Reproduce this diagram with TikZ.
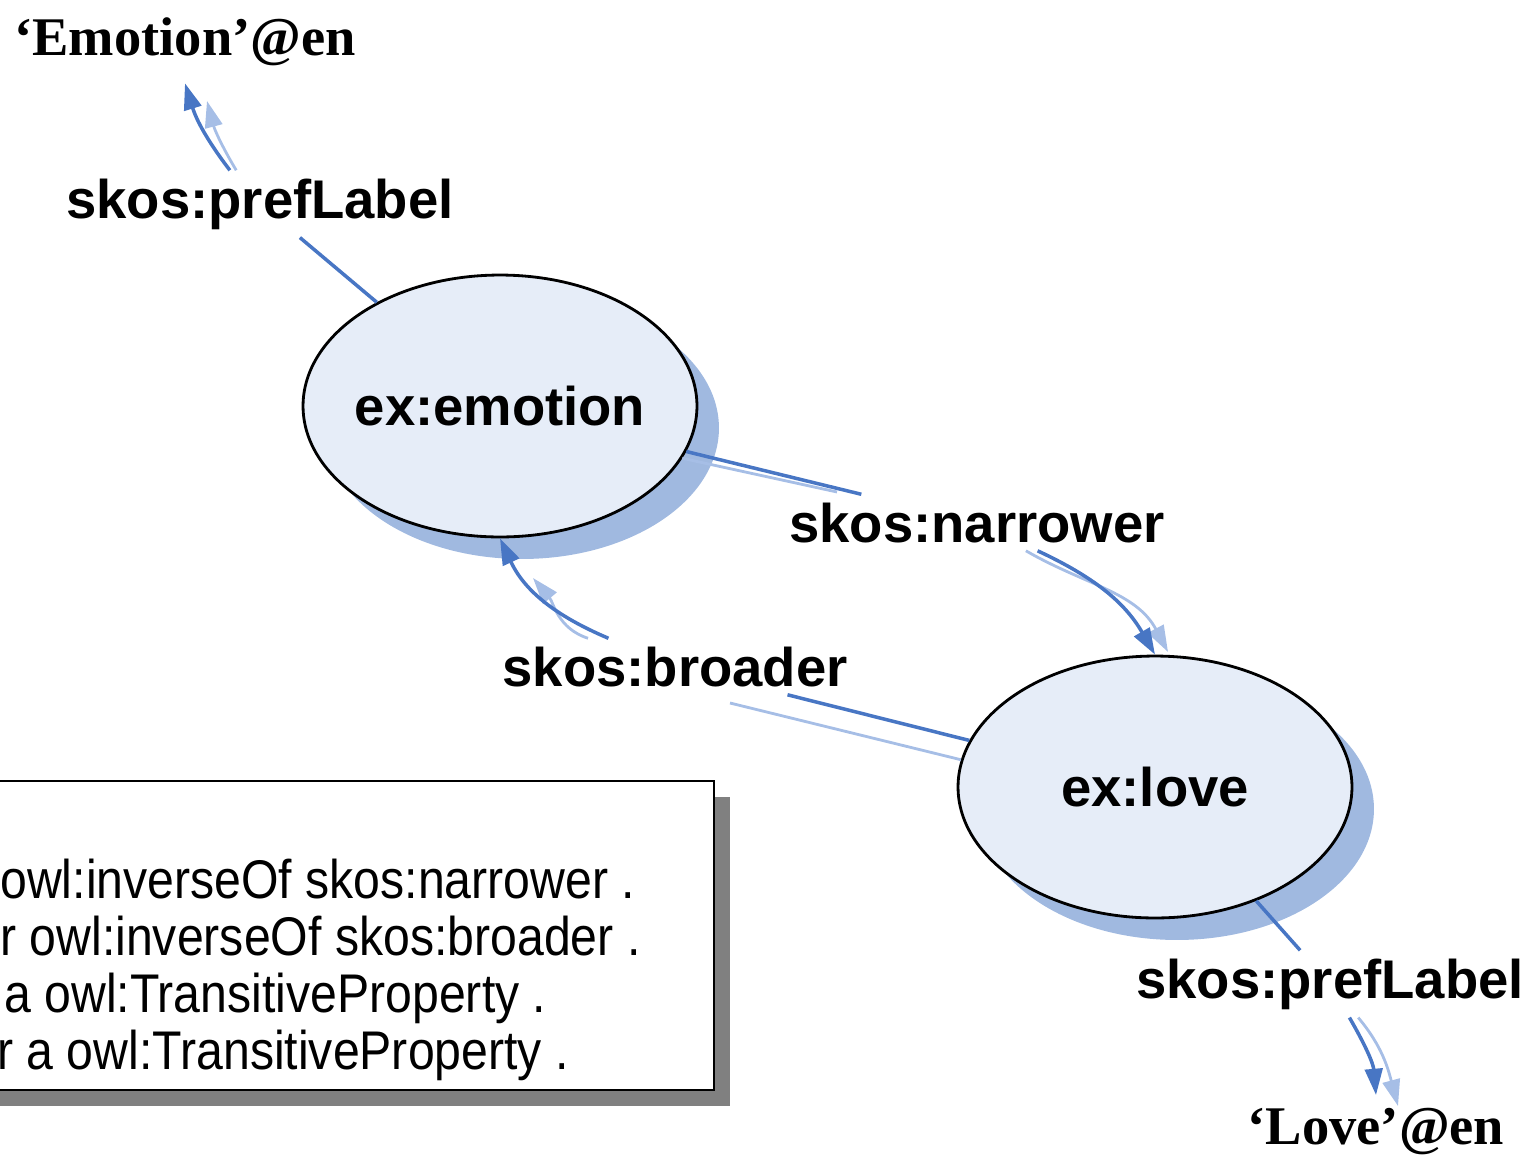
\documentclass[tikz,border=0pt]{standalone}
\usepackage{fontspec}
\setmainfont{Liberation Serif}
\setsansfont{Liberation Sans}
\newfontfamily\notefont[FakeStretch=0.885]{Liberation Sans}
\usetikzlibrary{shapes.geometric,shadows,arrows.meta}
\definecolor{relblue}{HTML}{4876C4}
\definecolor{echoblue}{HTML}{A6BEE6}
\definecolor{conceptfill}{HTML}{E6EDF8}
\definecolor{conceptshade}{HTML}{A0B9E0}

\begin{document}
\begin{tikzpicture}[x=0.02cm, y=-0.02cm,
    concept/.style={ellipse, draw=black, line width=1.6pt, fill=conceptfill,
      minimum width=7.88cm, minimum height=5.24cm, inner xsep=-5pt, inner ysep=0pt,
      font=\sffamily\bfseries\fontsize{31}{36}\selectfont,
      drop shadow={shadow xshift=0.44cm, shadow yshift=-0.44cm, fill=conceptshade, opacity=1}},
    prop/.style={anchor=base, inner sep=4.5pt, font=\sffamily\bfseries\fontsize{31}{36}\selectfont},
    literal/.style={anchor=base, inner sep=10pt, font=\bfseries\fontsize{31}{36}\selectfont},
    noteline/.style={anchor=base west, inner sep=0pt, font=\notefont\fontsize{31}{36}\selectfont},
    rel/.style={draw=relblue, line width=2pt},
    echo/.style={draw=echoblue, line width=1.6pt},
    headed/.style={-{Triangle[length=15pt, width=10pt]}}]
  \useasboundingbox (0,0) rectangle (1532,1157);

  \path[draw=black, line width=1.2pt, fill=white,
    drop shadow={shadow xshift=0.32cm, shadow yshift=-0.32cm, fill=gray, opacity=1}]
    (-40,781) rectangle (714,1090);
  \foreach \i/\xs/\txt in {1/0/{owl:inverseOf skos:narrower .},
                           2/0/{r owl:inverseOf skos:broader .},
                           3/4/{a owl:TransitiveProperty .},
                           4/-3/{r a owl:TransitiveProperty .}} {
    \node[noteline] (note\i) at (\xs,{841+57*\i}) {\txt};
  }

  \node[concept] (emotion) at (500,406) {ex:emotion};
  \node[concept] (love) at (1155,787) {ex:love};
  \node[literal] (emolit) at (185,55) {‘Emotion’@en};
  \node[literal, inner sep=7pt] (lovelit) at (1376,1144) {‘Love’@en};

  \node[prop] (prefA) at (260,218) {skos:prefLabel};
  \node[prop] (narrow) at (977,542) {skos:narrower};
  \node[prop] (broad) at (675,686) {skos:broader};
  \node[prop] (prefB) at (1330,998) {skos:prefLabel};

  \coordinate (echoA) at (207,101);
  \coordinate (echoN) at (837,492);
  \coordinate (echoL) at (1168,652);
  \coordinate (echoB) at (730,703);
  \coordinate (echoE) at (533,578);
  \coordinate (echoP) at (1398,1106);

  % faint doubles
  \draw[echo, headed] (prefA) to[bend left=8] (echoA);
  \draw[echo] (emotion.-16) -- (echoN);
  \draw[echo, headed] (narrow) to[out=-30, in=118] (echoL);
  \draw[echo] (love.172) -- (echoB);
  \draw[echo, headed] (broad) to[out=162, in=-50] (echoE);
  \draw[echo, headed] (prefB) to[out=-50, in=105] (echoP);

  \draw[rel] (emotion) -- (prefA);
  \draw[rel, headed] (prefA) to[bend left=10] (emolit.south);
  \draw[rel] (emotion) -- (narrow);
  \draw[rel, headed] (narrow) to[out=-25, in=120] (love.north);
  \draw[rel] (love) -- (broad);
  \draw[rel, headed] (broad) to[out=157, in=-65] (emotion.south);
  \draw[rel] (love) -- (prefB);
  \draw[rel, headed] (prefB) to[out=-60, in=95] (lovelit.north);
\end{tikzpicture}
\end{document}
